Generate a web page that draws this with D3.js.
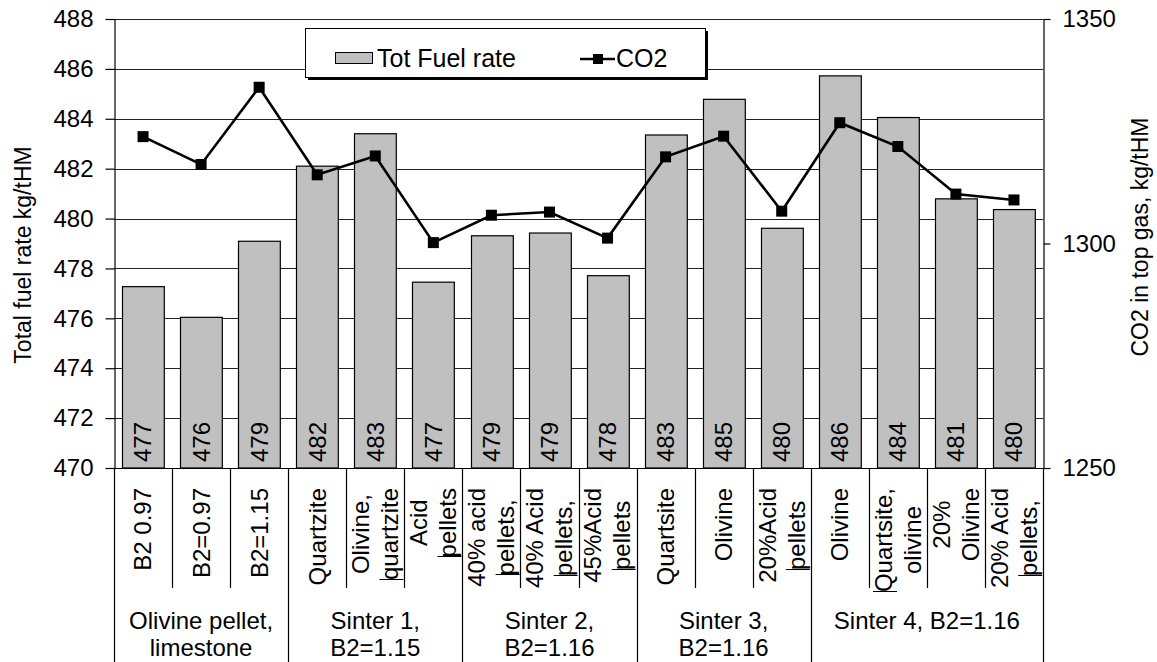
<!DOCTYPE html>
<html>
<head>
<meta charset="utf-8">
<script src="https://cdn.jsdelivr.net/npm/d3@7"></script>
<style>
  html, body { margin: 0; padding: 0; background: #fff; }
  svg { display: block; font-family: "Liberation Sans", Arial, sans-serif; }
</style>
</head>
<body>
<svg id="chart" width="1157" height="662"></svg>
<script>
// ---- data ----
const categories = [
  ["B2 0.97"], ["B2=0.97"], ["B2=1.15"],
  ["Quartzite"], ["Olivine,", "quartzite"], ["Acid", "pellets"],
  ["40% acid", "pellets,"], ["40% Acid", "pellets,"], ["45%Acid", "pellets"],
  ["Quartsite"], ["Olivine"], ["20%Acid", "pellets"],
  ["Olivine"], ["Quartsite,", "olivine"], ["20%", "Olivine"], ["20% Acid", "pellets,"]
];
const groupLabels = [
  ["Olivine pellet,", "limestone"],
  ["Sinter 1,", "B2=1.15"],
  ["Sinter 2,", "B2=1.16"],
  ["Sinter 3,", "B2=1.16"],
  ["Sinter 4, B2=1.16"]
];
const groupSizes = [3, 3, 3, 3, 4];
const fuelRate = [477.27, 476.04, 479.09, 482.10, 483.40, 477.45, 479.31, 479.42, 477.71,
                  483.35, 484.78, 479.61, 485.72, 484.05, 480.79, 480.36];
const co2 = [1323.8, 1317.6, 1334.8, 1315.3, 1319.5, 1300.2, 1306.3, 1307.0, 1301.2,
             1319.3, 1323.9, 1307.2, 1326.9, 1321.6, 1311.0, 1309.7];
const leftTicks = [470, 472, 474, 476, 478, 480, 482, 484, 486, 488];
const rightTicks = [1250, 1300, 1350];
// which line of a two-line label carries the small box-edge mark (-1 = none)
const edgeMarkLine = [-1, -1, -1, -1, 1, 1, 1, 1, 1, -1, -1, 1, -1, 0, -1, 1];

// ---- layout ----
const L = 114, R = 1043, T = 19, B = 468;
const FS = 24;
const svg = d3.select("#chart");

const x = d3.scaleBand().domain(d3.range(categories.length)).range([L, R])
  .paddingInner(0.28).paddingOuter(0.14);
const step = (R - L) / categories.length;
const yL = d3.scaleLinear().domain([470, 488]).range([B, T]);
const yR = d3.scaleLinear().domain([1250, 1350]).range([B, T]);

// gridlines
svg.append("g").selectAll("line").data(leftTicks).join("line")
  .attr("x1", L).attr("x2", R)
  .attr("y1", d => Math.round(yL(d)) + 0.5).attr("y2", d => Math.round(yL(d)) + 0.5)
  .attr("stroke", "#222").attr("stroke-width", 1);

// bars
svg.append("g").selectAll("rect").data(fuelRate).join("rect")
  .attr("x", (d, i) => Math.round(x(i)) + 0.5)
  .attr("y", d => yL(d))
  .attr("width", x.bandwidth())
  .attr("height", d => B - yL(d))
  .attr("fill", "#c0c0c0").attr("stroke", "#000").attr("stroke-width", 1.2);

// bar value labels
svg.append("g").selectAll("text").data(fuelRate).join("text")
  .attr("transform", (d, i) => `translate(${x(i) + x.bandwidth() / 2},${B - 6}) rotate(-90)`)
  .attr("dy", "0.35em")
  .attr("font-size", FS).attr("fill", "#000")
  .text(d => d3.format(".0f")(d));

// CO2 line
const line = d3.line().x((d, i) => x(i) + x.bandwidth() / 2).y(d => yR(d));
svg.append("path").datum(co2).attr("d", line)
  .attr("fill", "none").attr("stroke", "#000").attr("stroke-width", 2.6);
svg.append("g").selectAll("rect").data(co2).join("rect")
  .attr("x", (d, i) => x(i) + x.bandwidth() / 2 - 5.5)
  .attr("y", d => yR(d) - 5.5)
  .attr("width", 11).attr("height", 11).attr("fill", "#000");

// left axis
const axL = svg.append("g").attr("transform", `translate(${L + 0.5},0)`)
  .call(d3.axisLeft(yL).tickValues(leftTicks).tickFormat(d3.format("d"))
    .tickSize(9).tickPadding(12).tickSizeOuter(0));
// right axis
const axR = svg.append("g").attr("transform", `translate(${R + 0.5},0)`)
  .call(d3.axisRight(yR).tickValues(rightTicks).tickFormat(d3.format("d"))
    .tickSize(7).tickPadding(12).tickSizeOuter(0));
[axL, axR].forEach(a => {
  a.selectAll("path,line").attr("stroke", "#000").attr("stroke-width", 1.2);
  a.selectAll("text").attr("font-size", FS).attr("fill", "#000")
    .attr("font-family", "Liberation Sans, Arial, sans-serif");
});
// bottom axis line
svg.append("line").attr("x1", L).attr("x2", R + 1).attr("y1", B + 0.5).attr("y2", B + 0.5)
  .attr("stroke", "#000").attr("stroke-width", 1.2);

// category separators
const groupEdges = d3.cumsum(groupSizes);
for (let k = 0; k <= categories.length; k++) {
  const isGroup = k === 0 || groupEdges.includes(k);
  const xx = Math.round(L + k * step) + 0.5;
  svg.append("line").attr("x1", xx).attr("x2", xx)
    .attr("y1", B).attr("y2", isGroup ? 662 : 588)
    .attr("stroke", "#000").attr("stroke-width", 1.2);
}

// category labels (rotated, wrapped)
const LH = 29;
categories.forEach((lines, i) => {
  const cx = L + (i + 0.5) * step;
  const g = svg.append("g").attr("transform", `translate(${cx},488) rotate(-90)`);
  const texts = lines.map((s, k) => g.append("text")
    .attr("font-size", FS).attr("fill", "#000").attr("text-anchor", "middle")
    .attr("y", (k - (lines.length - 1) / 2) * LH + FS * 0.35)
    .text(s));
  const lens = texts.map(t => t.node().getComputedTextLength());
  const maxLen = d3.max(lens);
  texts.forEach(t => t.attr("x", -maxLen / 2));
  const m = edgeMarkLine[i];
  if (m >= 0) {
    const startX = Math.round(-maxLen / 2 - lens[m] / 2) + 0.5;
    const by = (m - (lines.length - 1) / 2) * LH + FS * 0.35;
    g.append("line").attr("x1", startX).attr("x2", startX)
      .attr("y1", by - FS * 0.78).attr("y2", by + FS * 0.22)
      .attr("stroke", "#000").attr("stroke-width", 1);
  }
});

// group labels
let start = 0;
groupLabels.forEach((lines, gi) => {
  const cx = L + (start + groupSizes[gi] / 2) * step;
  lines.forEach((s, k) => {
    svg.append("text").attr("x", cx).attr("y", 629 + k * 27)
      .attr("text-anchor", "middle").attr("font-size", FS).attr("fill", "#000")
      .text(s);
  });
  start += groupSizes[gi];
});

// axis titles
svg.append("text").attr("transform", "translate(31,255) rotate(-90)")
  .attr("text-anchor", "middle").attr("font-size", 23).attr("fill", "#000")
  .text("Total fuel rate kg/tHM");
svg.append("text").attr("transform", "translate(1148,237) rotate(-90)")
  .attr("text-anchor", "middle").attr("font-size", 23).attr("fill", "#000")
  .text("CO2 in top gas, kg/tHM");

// legend
const lg = svg.append("g");
lg.append("rect").attr("x", 308).attr("y", 31).attr("width", 400).attr("height", 49).attr("fill", "#000");
lg.append("rect").attr("x", 305.5).attr("y", 28.5).attr("width", 400).attr("height", 49)
  .attr("fill", "#fff").attr("stroke", "#000").attr("stroke-width", 1);
lg.append("rect").attr("x", 335.5).attr("y", 52.5).attr("width", 37).attr("height", 11)
  .attr("fill", "#c0c0c0").attr("stroke", "#000").attr("stroke-width", 1);
lg.append("text").attr("x", 377).attr("y", 67).attr("font-size", 25).attr("fill", "#000").text("Tot Fuel rate");
lg.append("line").attr("x1", 580).attr("x2", 615).attr("y1", 59).attr("y2", 59)
  .attr("stroke", "#000").attr("stroke-width", 2.6);
lg.append("rect").attr("x", 593).attr("y", 54).attr("width", 10).attr("height", 10).attr("fill", "#000");
lg.append("text").attr("x", 616).attr("y", 67).attr("font-size", 25).attr("fill", "#000").text("CO2");
</script>
</body>
</html>
